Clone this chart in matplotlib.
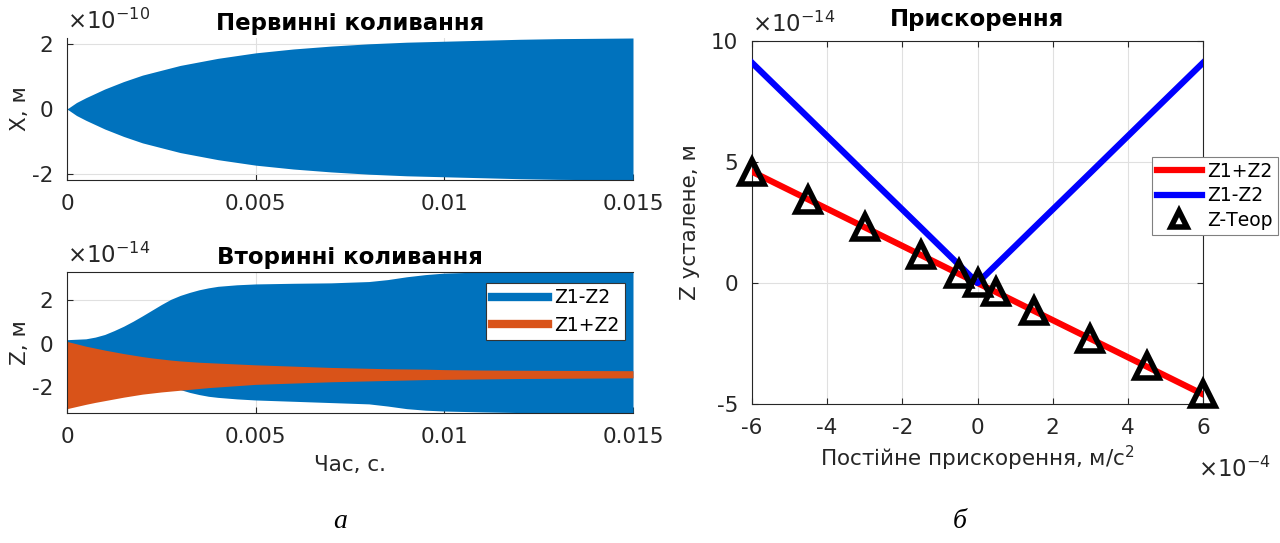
import numpy as np
import matplotlib
matplotlib.use('Agg')
import matplotlib.pyplot as plt

plt.rcParams['font.family'] = ['DejaVu Sans']
plt.rcParams['axes.unicode_minus'] = False
plt.rcParams['mathtext.fontset'] = 'dejavusans'

# primary oscillation envelope (x1e-10 m)
t_x = [0, 0.00025, 0.0005, 0.001, 0.0015, 0.002, 0.003, 0.004, 0.005, 0.006,
       0.007, 0.008, 0.009, 0.01, 0.011, 0.012, 0.013, 0.014, 0.015]
x_amp = [0, 0.2, 0.35, 0.62, 0.85, 1.05, 1.35, 1.57, 1.74, 1.86,
         1.95, 2.02, 2.07, 2.1, 2.13, 2.16, 2.18, 2.19, 2.2]

# secondary oscillation envelopes (x1e-14 m)
t_z = [0, 0.0005, 0.00075, 0.001, 0.00125, 0.0015, 0.00175, 0.002, 0.00225,
       0.0025, 0.00275, 0.003, 0.00325, 0.0035, 0.00375, 0.004, 0.0045, 0.005,
       0.006, 0.007, 0.008, 0.0085, 0.009, 0.0095, 0.01, 0.011, 0.012, 0.015]
zdiff_up = [0.18, 0.22, 0.3, 0.42, 0.6, 0.8, 1.03, 1.28, 1.54, 1.8, 2.04, 2.22,
            2.36, 2.48, 2.57, 2.64, 2.71, 2.75, 2.78, 2.8, 2.86, 2.95, 3.08,
            3.18, 3.25, 3.3, 3.32, 3.35]
zdiff_lo = [-0.18, -0.22, -0.3, -0.42, -0.6, -0.8, -1.03, -1.28, -1.52, -1.75,
            -1.95, -2.12, -2.25, -2.35, -2.43, -2.48, -2.55, -2.6, -2.66, -2.72,
            -2.78, -2.88, -3.0, -3.07, -3.11, -3.15, -3.18, -3.2]
zsum_up = [0.1, -0.12, -0.21, -0.3, -0.38, -0.46, -0.53, -0.6, -0.66, -0.71,
           -0.76, -0.8, -0.83, -0.86, -0.88, -0.9, -0.94, -0.98, -1.04, -1.1,
           -1.14, -1.16, -1.17, -1.18, -1.2, -1.22, -1.23, -1.25]
zsum_lo = [-3.0, -2.8, -2.71, -2.63, -2.55, -2.47, -2.4, -2.33, -2.28, -2.23,
           -2.19, -2.15, -2.11, -2.07, -2.03, -2.0, -1.94, -1.88, -1.82, -1.76,
           -1.72, -1.7, -1.68, -1.66, -1.65, -1.63, -1.61, -1.58]

# steady-state Z vs constant acceleration (acc x1e-4, Z x1e-14)
acc = [-6, -4.5, -3, -1.5, -0.5, 0, 0.5, 1.5, 3, 4.5, 6]
z_sum = [4.6, 3.45, 2.3, 1.15, 0.38, 0, -0.38, -1.15, -2.3, -3.45, -4.6]
z_diff = [9.1, 6.83, 4.55, 2.28, 0.76, 0, 0.76, 2.28, 4.55, 6.83, 9.1]
z_theor = [4.6, 3.45, 2.3, 1.15, 0.38, 0, -0.38, -1.15, -2.3, -3.45, -4.6]

W, H = 1280, 543
fig = plt.figure(figsize=(W / 100, H / 100), dpi=100)

def box(l, t, r, b):
    return [l / W, 1 - b / H, (r - l) / W, (b - t) / H]

dark = '0.15'
fs = 15.5
tfs = 16.5
ofs = 16.5

def style(ax):
    ax.tick_params(direction='in', labelsize=fs, colors=dark, length=4)
    ax.grid(True, color='0.88', lw=0.8)
    ax.set_axisbelow(True)
    for s in ax.spines.values():
        s.set_color(dark)
        s.set_linewidth(0.8)

c_blue = '#0072BD'
c_orange = '#D95319'

# --- primary
ax1 = fig.add_axes(box(67, 38, 633, 180))
style(ax1)
amp = np.array(x_amp)
ax1.fill_between(t_x, -amp, amp, color=c_blue, lw=0)
ax1.set_xlim(0, 0.015)
ax1.set_ylim(-2.2, 2.2)
ax1.set_xticks([0, 0.005, 0.01, 0.015])
ax1.set_xticklabels(['0', '0.005', '0.01', '0.015'])
ax1.set_yticks([-2, 0, 2])
ax1.spines['top'].set_visible(False)
ax1.spines['right'].set_visible(False)
ax1.tick_params(pad=10)
ax1.set_ylabel('X, м', fontsize=fs, color=dark, labelpad=1)
ax1.set_title('Первинні коливання', fontsize=tfs, fontweight='bold', pad=6)
ax1.text(0.0, 1.03, r'$\times$10$^{-10}$', transform=ax1.transAxes,
         fontsize=ofs, color=dark, va='bottom', ha='left')

# --- secondary
ax2 = fig.add_axes(box(67, 272, 633, 413))
style(ax2)
ax2.fill_between(t_z, zdiff_lo, zdiff_up, color=c_blue, lw=0)
ax2.fill_between(t_z, zsum_lo, zsum_up, color=c_orange, lw=0)
ax2.plot([], [], color=c_blue, lw=6, label='Z1-Z2')
ax2.plot([], [], color=c_orange, lw=6, label='Z1+Z2')
ax2.set_xlim(0, 0.015)
ax2.set_ylim(-3.2, 3.3)
ax2.set_xticks([0, 0.005, 0.01, 0.015])
ax2.set_xticklabels(['0', '0.005', '0.01', '0.015'])
ax2.set_yticks([-2, 0, 2])
ax2.spines['right'].set_visible(False)
ax2.tick_params(pad=10)
ax2.set_ylabel('Z, м', fontsize=fs, color=dark, labelpad=1)
ax2.set_xlabel('Час, с.', fontsize=fs, color=dark, labelpad=6)
ax2.set_title('Вторинні коливання', fontsize=tfs, fontweight='bold', pad=6)
ax2.text(0.0, 1.03, r'$\times$10$^{-14}$', transform=ax2.transAxes,
         fontsize=ofs, color=dark, va='bottom', ha='left')
leg = ax2.legend(loc='upper right', bbox_to_anchor=(0.985, 0.925), fontsize=13.5,
                 handlelength=3.0, frameon=True, fancybox=False, framealpha=1,
                 borderpad=0.3, labelspacing=0.45, handletextpad=0.3,
                 borderaxespad=0)
leg.get_frame().set_edgecolor('0.2')
leg.get_frame().set_linewidth(0.8)

# --- acceleration
ax3 = fig.add_axes(box(752, 41, 1203, 404))
style(ax3)
ax3.tick_params(top=True, right=True)
ax3.plot(acc, z_sum, color='red', lw=4.5, label='Z1+Z2', zorder=3)
ax3.plot(acc, z_diff, color='blue', lw=4.5, label='Z1-Z2', zorder=3)
ax3.plot(acc, z_theor, ls='none', marker='^', ms=17, mfc='none', mec='k',
         mew=4, label='Z-Теор', zorder=4, clip_on=False)
ax3.set_xlim(-6, 6)
ax3.set_ylim(-5, 10)
ax3.set_xticks([-6, -4, -2, 0, 2, 4, 6])
ax3.set_yticks([-5, 0, 5, 10])
ax3.tick_params(pad=10)
ax3.set_ylabel('Z усталене, м', fontsize=fs, color=dark, labelpad=8)
ax3.set_xlabel('Постійне прискорення, м/с$^2$', fontsize=fs, color=dark, labelpad=4)
ax3.set_title('Прискорення', fontsize=tfs, fontweight='bold', pad=11)
ax3.text(0.0, 1.012, r'$\times$10$^{-14}$', transform=ax3.transAxes,
         fontsize=ofs, color=dark, va='bottom', ha='left')
ax3.text(0.99, -0.145, r'$\times$10$^{-4}$', transform=ax3.transAxes,
         fontsize=ofs, color=dark, va='top', ha='left')
leg3 = fig.legend(*ax3.get_legend_handles_labels(), loc='upper left',
                  bbox_to_anchor=(1152 / W, 1 - 157 / H), fontsize=13.5,
                  handlelength=2.4, frameon=True, fancybox=False, framealpha=1,
                  borderpad=0.25, labelspacing=0.3, handletextpad=0.3,
                  borderaxespad=0)
leg3.get_frame().set_edgecolor('0.5')
leg3.get_frame().set_linewidth(0.8)
for h in leg3.legend_handles[2:]:
    h.set_markersize(12)

fig.text(340 / W, 1 - 522 / H, 'а', fontsize=20, fontstyle='italic',
         family='Liberation Serif', ha='center', va='center')
fig.text(960 / W, 1 - 522 / H, 'б', fontsize=20, fontstyle='italic',
         family='Liberation Serif', ha='center', va='center')

fig.savefig('out.png', dpi=100)
